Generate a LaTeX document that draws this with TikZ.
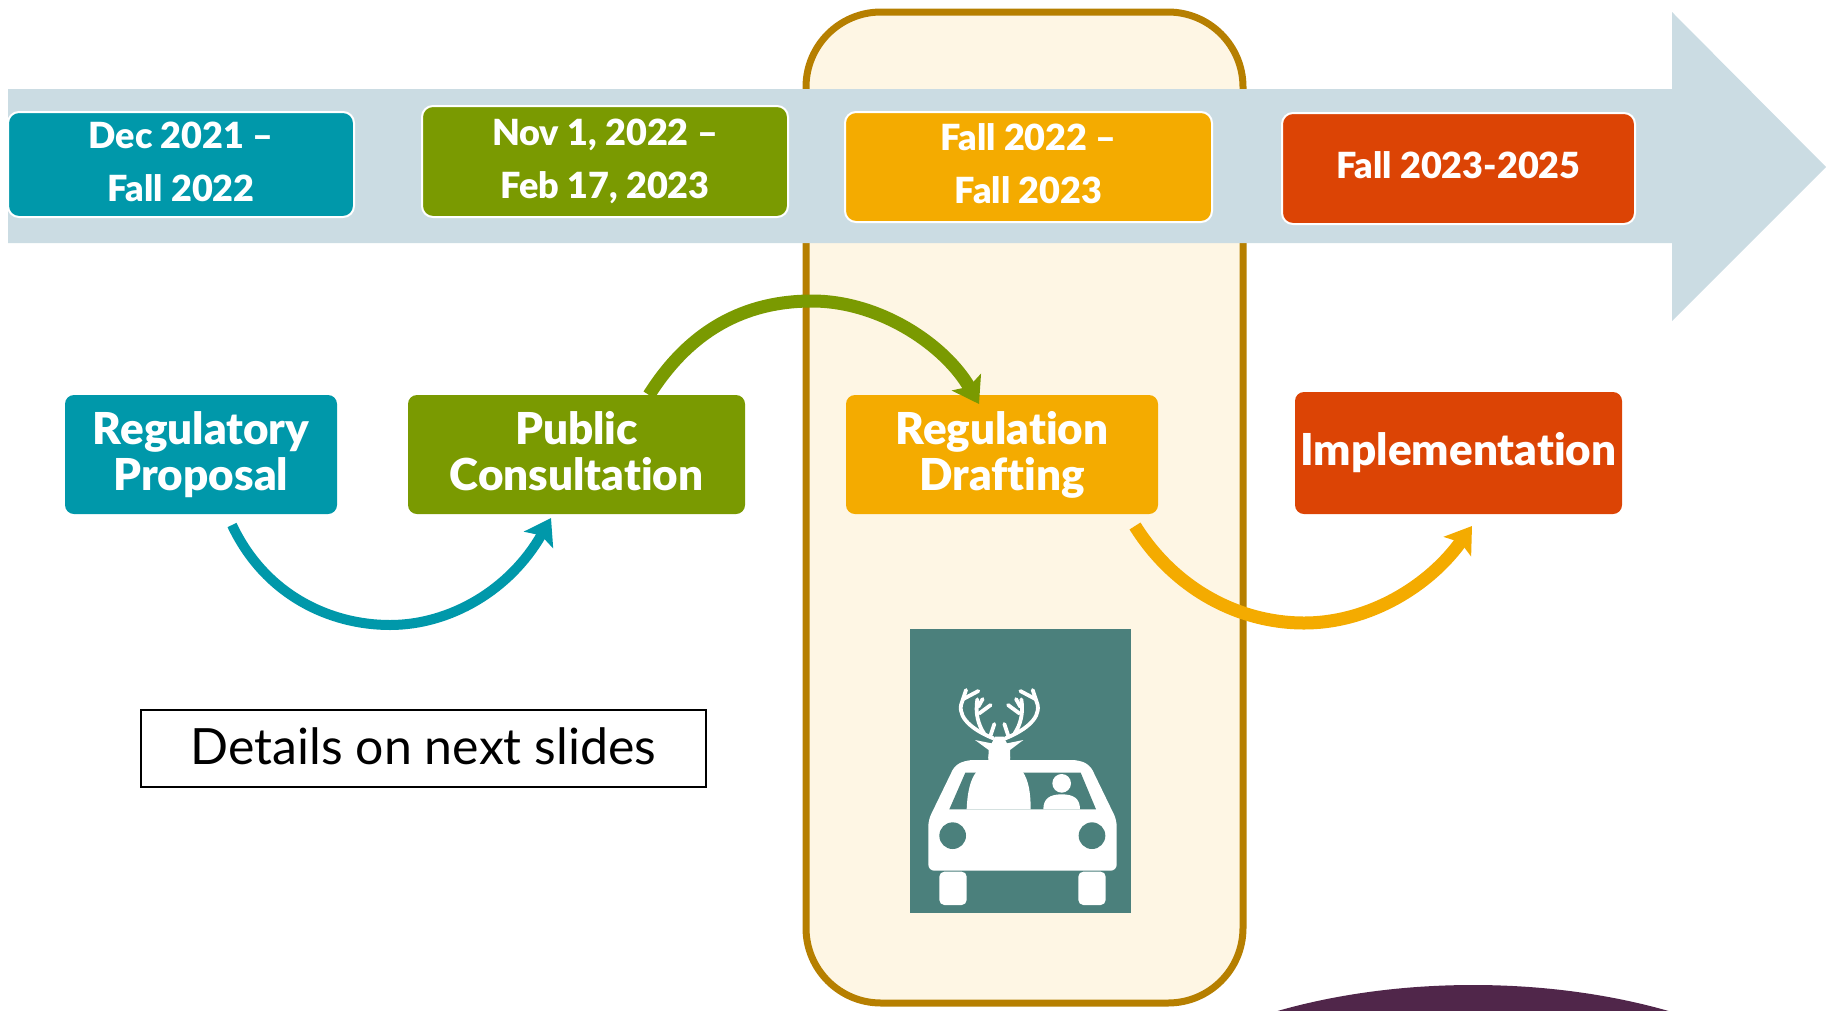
\documentclass[tikz,border=0pt]{standalone}
\usepackage{fontspec}
\setmainfont{Lato}[Ligatures=NoCommon,BoldFont={Lato Black}]
\usetikzlibrary{arrows.meta}
\definecolor{cblue}{HTML}{0098AA}
\definecolor{cgreen}{HTML}{7A9A01}
\definecolor{corange}{HTML}{F4AB00}
\definecolor{cred}{HTML}{DC4405}
\definecolor{cpanel}{HTML}{FEF6E4}
\definecolor{cpanelline}{HTML}{B67F00}
\definecolor{cband}{HTML}{CBDCE3}
\definecolor{cteal}{HTML}{4B807C}
\definecolor{cplum}{HTML}{50264A}
\tikzset{
  datebox/.style={draw=white,line width=2pt,rounded corners=11pt,text=white,align=center,
    font=\fontsize{36}{53}\selectfont\bfseries,inner sep=0pt,anchor=center},
  procbox/.style={rounded corners=9pt,text=white,align=center,
    font=\fontsize{44}{46}\selectfont\bfseries,inner sep=0pt,anchor=center},
  flow/.style={-{Stealth[length=25pt,width=33pt,inset=5pt]}},
  antler/.style={draw=white,line width=3.8pt,line cap=round,line join=round},
}
\begin{document}
\begin{tikzpicture}[x=1pt,y=-1pt]
\useasboundingbox (0,0) rectangle (1826,1010);
\begin{scope}
\clip (0,0) rectangle (1826,1010);
\fill[cplum] (1473,1189) ellipse [x radius=400,y radius=204];
\end{scope}
% panel
\node[draw=cpanelline,fill=cpanel,line width=7pt,rounded corners=75pt,minimum width=437pt,minimum height=991pt,inner sep=0pt] (panel) at (1024.5,507.5) {};
% band arrow
\fill[cband] (8,89) -- (1672,89) -- (1672,12) -- (1826,167) -- (1672,321) -- (1672,243) -- (8,243) -- cycle;
% date boxes
\node[datebox,fill=cblue,minimum width=346pt,minimum height=105pt,text depth=6pt] (d1) at (181,164.5) {Dec 2021 –\\Fall 2022};
\node[datebox,fill=cgreen,minimum width=366pt,minimum height=111pt] (d2) at (605,161.5) {Nov 1, 2022 –\\Feb 17, 2023};
\node[datebox,fill=corange,minimum width=367pt,minimum height=110pt,text depth=6pt] (d3) at (1028.5,167) {Fall 2022 –\\Fall 2023};
\node[datebox,fill=cred,minimum width=353pt,minimum height=111pt,text depth=7pt] (d4) at (1458.5,168.5) {Fall 2023-2025};
% process boxes
\node[procbox,fill=cblue,minimum width=272pt,minimum height=119pt] (p1) at (201,454.5) {Regulatory\\Proposal};
\node[procbox,fill=cgreen,minimum width=337pt,minimum height=119pt,text depth=8pt] (p2) at (576.5,454.5) {Public\\Consultation};
\node[procbox,fill=corange,minimum width=312pt,minimum height=119pt] (p3) at (1002,454.5) {Regulation\\Drafting};
\node[procbox,fill=cred,minimum width=327pt,minimum height=122pt] (p4) at (1458.5,453) {Implementation};
% details
\node[draw=black,line width=1.6pt,minimum width=565pt,minimum height=77pt,inner sep=0pt,text depth=4pt,font=\fontsize{50}{54}\selectfont] (details) at (423.5,748.5) {Details on next slides};
% connector ends
\coordinate (b1) at (232,525);
\coordinate (b2) at (551,518);
\coordinate (g1) at (649,395);
\coordinate (g2) at (979,404);
\coordinate (o1) at (1135,526);
\coordinate (o2) at (1472,526);
\draw[flow,cblue,line width=10pt] (b1) .. controls (265,595) and (330,625) .. (390,625) .. controls (450,625) and (510,590) .. (b2);
\draw[flow,cgreen,line width=13pt] (g1) .. controls (690,330) and (745,301) .. (812,301) .. controls (880,301) and (945,345) .. (g2);
\draw[flow,corange,line width=13pt] (o1) .. controls (1175,590) and (1240,623) .. (1304,623) .. controls (1370,623) and (1430,585) .. (o2);
% picture: deer in car
\begin{scope}[shift={(860,600)},scale=0.33333]
\fill[cteal] (150,87) rectangle (813,938);
% car body
\fill[white,rounded corners=6pt] (322,480) -- (655,480) -- (690,495) -- (770,660) -- (770,812) -- (205,812) -- (205,660) -- (285,495) -- cycle;
% wheels
\fill[white,rounded corners=5pt] (238,815) rectangle (320,915);
\fill[white,rounded corners=5pt] (655,815) rectangle (737,915);
% window
\fill[cteal] (316,518) -- (662,518) -- (708,628) -- (268,628) -- cycle;
% deer body
\fill[white] (320,628) .. controls (322,575) and (332,535) .. (350,515) -- (385,480) -- (385,470) -- (450,470) -- (450,480) -- (488,515) .. controls (505,540) and (512,575) .. (512,628) -- cycle;
\fill[white] (385,475) -- (386,450) -- (345,420) -- (395,430) -- (405,410) -- (431,410) -- (441,430) -- (490,420) -- (450,450) -- (450,475) -- cycle;
% antlers
\foreach \mirrorscale/\mirrorshift in {1/0,-1/836}{
\begin{scope}[shift={(\mirrorshift,0)},xscale=\mirrorscale]
\draw[antler] (400,415) .. controls (350,395) and (295,360) .. (303,315) -- (318,270);
\draw[antler] (308,298) -- (355,273);
\draw[antler] (372,400) .. controls (355,375) and (345,340) .. (352,298);
\draw[antler] (358,340) -- (392,315);
\draw[antler] (355,320) -- (368,297);
\draw[antler] (392,405) -- (403,372);
\end{scope}}
% person
\fill[white] (605,550) circle [radius=28];
\fill[white] (550,628) .. controls (550,595) and (570,583) .. (605,583) .. controls (640,583) and (660,595) .. (660,628) -- cycle;
% headlights
\fill[cteal] (278,707) circle [radius=40];
\fill[cteal] (696,707) circle [radius=40];
\end{scope}
\end{tikzpicture}
\end{document}
